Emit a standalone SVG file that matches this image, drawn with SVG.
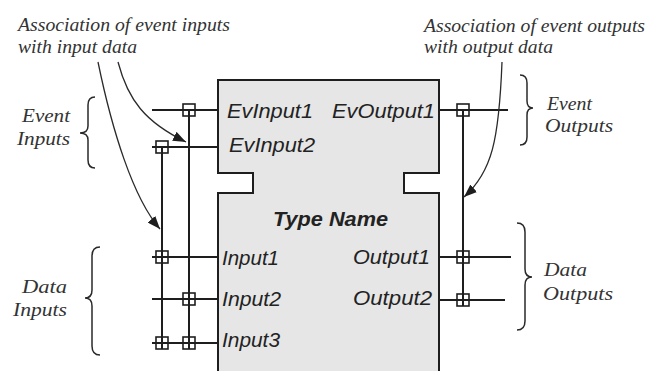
<svg xmlns="http://www.w3.org/2000/svg" width="646" height="371" viewBox="0 0 646 371">
<defs>
<style>
.bg{fill:#ffffff}
.block{fill:#e6e6e6;stroke:#1e1e1e;stroke-width:2}
.wire{stroke:#1e1e1e;stroke-width:2;fill:none}
.sq{fill:none;stroke:#1e1e1e;stroke-width:1.6}
.curve{stroke:#2a2a2a;stroke-width:1.3;fill:none}
.brace{stroke:#2a2a2a;stroke-width:1.5;fill:none}
.serif{font-family:"Liberation Serif","Times New Roman",serif;font-style:italic;font-size:19px;fill:#333333}
.sans{font-family:"Liberation Sans",Arial,sans-serif;font-style:italic;font-size:20px;fill:#222222}
.bold{font-weight:bold}
</style>
<marker id="arr" viewBox="0 0 13 10" markerWidth="13" markerHeight="10" refX="13" refY="5" orient="auto" markerUnits="userSpaceOnUse">
<path d="M0,0 L13,5 L0,10 Z" fill="#1e1e1e"/>
</marker>
</defs>
<rect class="bg" x="0" y="0" width="646" height="371"/>

<g id="function-block">
<path class="block" d="M218,80 H439 V173 H404 V193 H439 V380 H218 V193 H253 V173 H218 Z"/>
<text class="sans bold" x="273" y="226" textLength="115" lengthAdjust="spacingAndGlyphs">Type Name</text>
<text class="sans" x="227" y="118" textLength="86" lengthAdjust="spacingAndGlyphs">EvInput1</text>
<text class="sans" x="229" y="152" textLength="86" lengthAdjust="spacingAndGlyphs">EvInput2</text>
<text class="sans" x="332" y="118" textLength="103" lengthAdjust="spacingAndGlyphs">EvOutput1</text>
<text class="sans" x="222" y="265" textLength="57" lengthAdjust="spacingAndGlyphs">Input1</text>
<text class="sans" x="222" y="306" textLength="59" lengthAdjust="spacingAndGlyphs">Input2</text>
<text class="sans" x="222" y="347" textLength="58" lengthAdjust="spacingAndGlyphs">Input3</text>
<text class="sans" x="353" y="264" textLength="77" lengthAdjust="spacingAndGlyphs">Output1</text>
<text class="sans" x="353" y="305" textLength="79" lengthAdjust="spacingAndGlyphs">Output2</text>
</g>

<g id="connectors">
<line class="wire" x1="152" y1="110" x2="218" y2="110"/>
<line class="wire" x1="152" y1="147" x2="218" y2="147"/>
<line class="wire" x1="152" y1="257" x2="218" y2="257"/>
<line class="wire" x1="152" y1="299" x2="218" y2="299"/>
<line class="wire" x1="152" y1="343" x2="218" y2="343"/>
<line class="wire" x1="439" y1="110" x2="508" y2="110"/>
<line class="wire" x1="439" y1="257" x2="511" y2="257"/>
<line class="wire" x1="439" y1="300" x2="505" y2="300"/>
<line class="wire" x1="162" y1="147" x2="162" y2="349"/>
<line class="wire" x1="189" y1="110" x2="189" y2="349"/>
<line class="wire" x1="463" y1="110" x2="463" y2="306"/>
<path class="curve" d="M98,62 C112,130 133,198 160,229" marker-end="url(#arr)"/>
<path class="curve" d="M118,62 C128,100 145,122 186,142" marker-end="url(#arr)"/>
<path class="curve" d="M502,62 C499,140 492,172 464,197" marker-end="url(#arr)"/>
</g>

<g id="with-squares">
<rect class="sq" x="183" y="104" width="12" height="12"/>
<rect class="sq" x="156" y="141" width="12" height="12"/>
<rect class="sq" x="156" y="251" width="12" height="12"/>
<rect class="sq" x="183" y="293" width="12" height="12"/>
<rect class="sq" x="156" y="337" width="12" height="12"/>
<rect class="sq" x="183" y="337" width="12" height="12"/>
<rect class="sq" x="457" y="104" width="12" height="12"/>
<rect class="sq" x="457" y="251" width="12" height="12"/>
<rect class="sq" x="457" y="294" width="12" height="12"/>
</g>

<g id="event-inputs-label">
<path class="brace" d="M95,97 Q88,97 88,105 L88,126 Q88,133 80,133 Q88,133 88,140 L88,160 Q88,168 95,168"/>
<text class="serif" x="22" y="122" textLength="48" lengthAdjust="spacingAndGlyphs">Event</text>
<text class="serif" x="17" y="145" textLength="53" lengthAdjust="spacingAndGlyphs">Inputs</text>
</g>

<g id="data-inputs-label">
<path class="brace" d="M100,247 Q92,247 92,256 L92,290 Q92,298 85,298 Q92,298 92,306 L92,346 Q92,355 100,355"/>
<text class="serif" x="22" y="293" textLength="45" lengthAdjust="spacingAndGlyphs">Data</text>
<text class="serif" x="13" y="316" textLength="54" lengthAdjust="spacingAndGlyphs">Inputs</text>
</g>

<g id="event-outputs-label">
<path class="brace" d="M520,75 Q527,75 527,83 L527,101 Q527,108 533,108 Q527,108 527,115 L527,137 Q527,145 520,145"/>
<text class="serif" x="547" y="110" textLength="45" lengthAdjust="spacingAndGlyphs">Event</text>
<text class="serif" x="545" y="132" textLength="68" lengthAdjust="spacingAndGlyphs">Outputs</text>
</g>

<g id="data-outputs-label">
<path class="brace" d="M517,223 Q525,223 525,232 L525,269 Q525,277 532,277 Q525,277 525,285 L525,321 Q525,330 517,330"/>
<text class="serif" x="544" y="276" textLength="43" lengthAdjust="spacingAndGlyphs">Data</text>
<text class="serif" x="543" y="300" textLength="70" lengthAdjust="spacingAndGlyphs">Outputs</text>
</g>

<g id="input-association-note">
<text class="serif" x="18" y="31" textLength="212" lengthAdjust="spacingAndGlyphs">Association of event inputs</text>
<text class="serif" x="18" y="53" textLength="119" lengthAdjust="spacingAndGlyphs">with input data</text>
</g>

<g id="output-association-note">
<text class="serif" x="424" y="32" textLength="221" lengthAdjust="spacingAndGlyphs">Association of event outputs</text>
<text class="serif" x="424" y="53" textLength="129" lengthAdjust="spacingAndGlyphs">with output data</text>
</g>
</svg>
